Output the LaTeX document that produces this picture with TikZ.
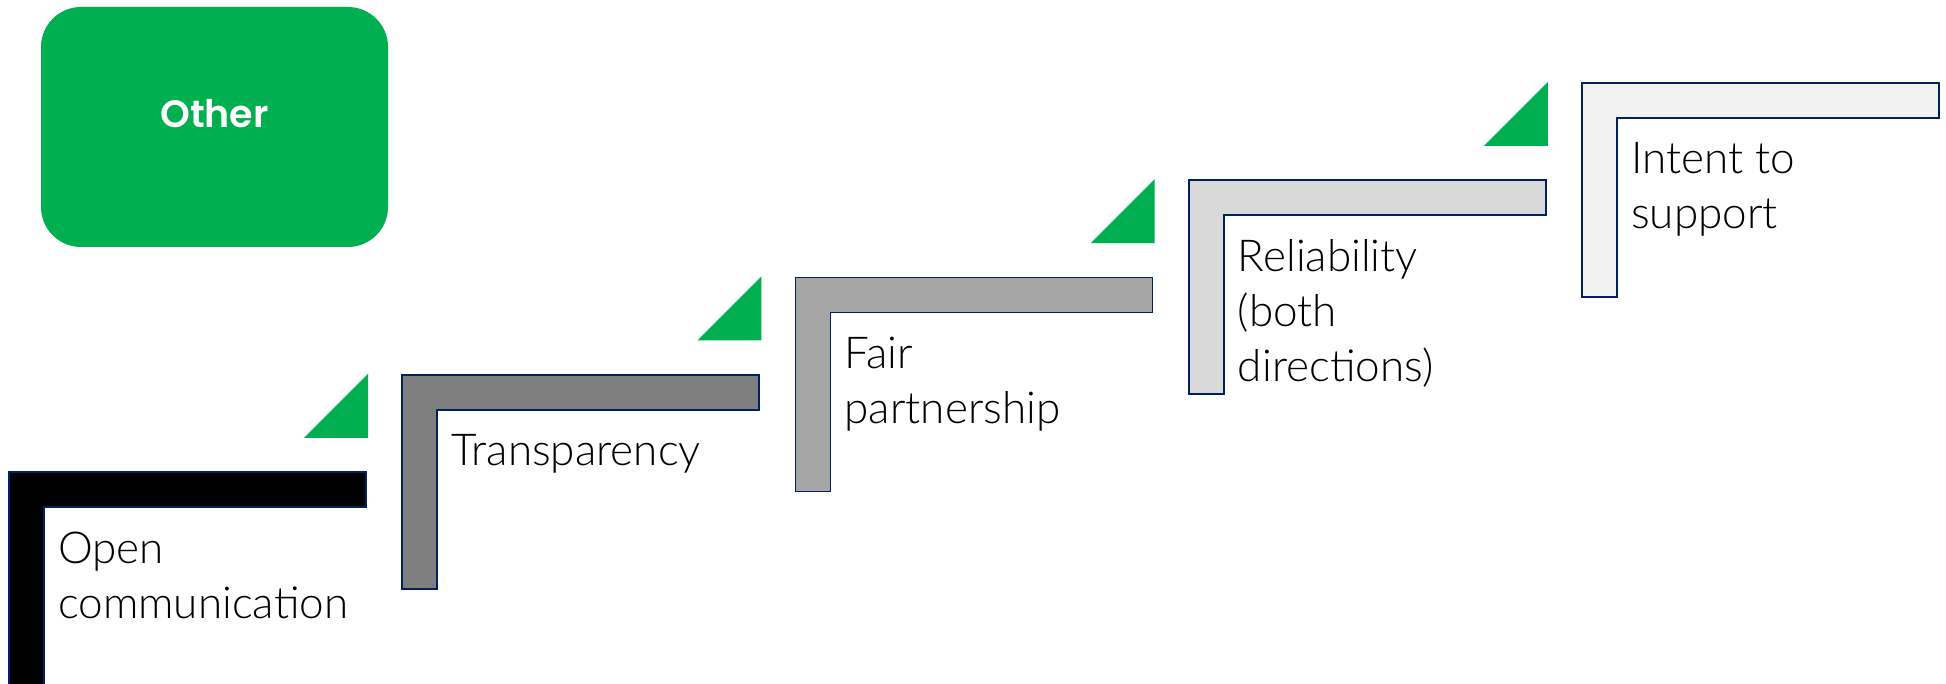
\documentclass[tikz,border=0pt]{standalone}
\usepackage{fontspec}
\setmainfont{Lato}[UprightFont=* Light, BoldFont=* Bold]
\newfontfamily\popfont{Poppins}[UprightFont=* SemiBold]
\definecolor{grn}{RGB}{0,176,80}
\definecolor{navy}{RGB}{0,32,96}
\definecolor{fillA}{RGB}{0,0,0}
\definecolor{fillB}{RGB}{127,127,127}
\definecolor{fillC}{RGB}{166,166,166}
\definecolor{fillD}{RGB}{217,217,217}
\definecolor{fillE}{RGB}{242,242,242}
\tikzset{
  stairshape/.style={draw=navy, line width=1.6pt, line join=miter},
  greentri/.style={fill=grn, draw=none},
  stairlabel/.style={anchor=base west, inner sep=0pt, text=black},
  otherbox/.style={fill=grn, draw=none, rounded corners=40pt, minimum width=347pt, minimum height=240pt, inner sep=0pt},
}
\newcommand\stairstep[4]{% index, fill, name, text
  \pgfmathsetmacro\sx{9+393.25*#1}
  \pgfmathsetmacro\sy{472-97.25*#1}
  \draw[stairshape, fill=#2] (\sx,\sy) -- ++(357,0) -- ++(0,35) -- ++(-322,0) -- ++(0,179) -- ++(-35,0) -- cycle;
  \node[stairlabel] (#3) at (\sx+35+14,\sy+91)
    {\parbox[t]{320pt}{\raggedright\fontsize{44}{55}\selectfont #4}};
}
\newcommand\greentriangle[2]{% index, name
  \pgfmathsetmacro\tx{368+393.25*#1}
  \pgfmathsetmacro\ty{472-97.25*(#1+1)-1}
  \coordinate (#2) at (\tx,\ty);
  \fill[greentri] (#2) -- ++(0,64) -- ++(-64,0) -- cycle;
}
\begin{document}
\begin{tikzpicture}[x=1pt,y=-1pt]
  \clip (0,0) rectangle (1946,684);
  \useasboundingbox (0,0) rectangle (1946,684);
  \fill[white] (0,0) rectangle (1946,684);
  \node[otherbox] (other) at (214.5,127) {};
  \node[anchor=base, inner sep=0pt, text=white, font=\popfont\fontsize{38}{44}\selectfont] (othertxt) at (214.5,128) {Other};
  \stairstep{0}{fillA}{open}{Open\\communication}
  \stairstep{1}{fillB}{transp}{Transparency}
  \stairstep{2}{fillC}{fair}{Fair\\partnership}
  \stairstep{3}{fillD}{reliab}{Reliability\\(both\\directions)}
  \stairstep{4}{fillE}{intent}{Intent to\\support}
  \greentriangle{0}{t1}
  \greentriangle{1}{t2}
  \greentriangle{2}{t3}
  \greentriangle{3}{t4}
\end{tikzpicture}
\end{document}
